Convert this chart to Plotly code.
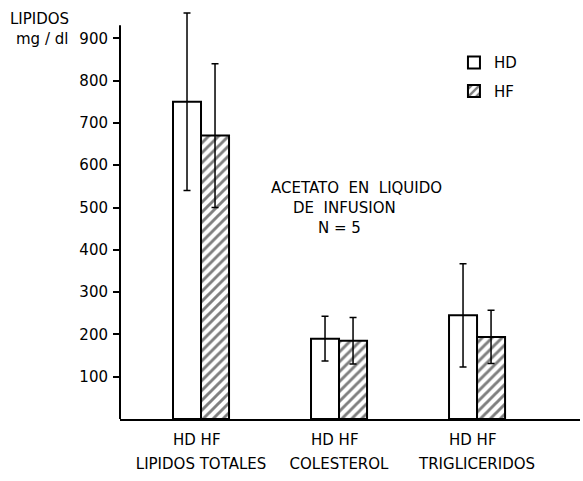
import plotly.graph_objects as go

categories = ["LIPIDOS TOTALES", "COLESTEROL", "TRIGLICERIDOS"]
group_labels = ["HD HF", "HD HF", "HD HF"]
hd_values = [750, 190, 245]
hd_err = [210, 53, 122]
hf_values = [670, 185, 194]
hf_err = [170, 55, 63]
y_ticks = [100, 200, 300, 400, 500, 600, 700, 800, 900]

FONT = "DejaVu Sans, Arial, sans-serif"

fig = go.Figure()
fig.add_trace(go.Bar(
    x=categories, y=hd_values, name="HD", legendgroup="hd",
    marker=dict(color="white", line=dict(color="black", width=2)),
    error_y=dict(type="data", array=hd_err, color="black", thickness=1.5, width=3.5),
))
fig.add_trace(go.Bar(
    x=categories, y=hf_values, name="HF", legendgroup="hf",
    marker=dict(color="white", line=dict(color="black", width=2),
                pattern=dict(shape="/", fgcolor="black", bgcolor="white", size=7, solidity=0.42)),
    error_y=dict(type="data", array=hf_err, color="black", thickness=1.5, width=3.5),
))

fig.update_layout(
    width=583, height=481,
    margin=dict(l=120, r=3, t=7, b=62, autoexpand=False),
    paper_bgcolor="white", plot_bgcolor="white",
    font=dict(family=FONT, size=15, color="black"),
    barmode="group", bargap=0.594, bargroupgap=0,
    showlegend=True,
    legend=dict(x=0.726, y=0.905, xanchor="left", yanchor="top",
                bgcolor="rgba(0,0,0,0)", font=dict(size=15),
                traceorder="grouped", tracegroupgap=6, itemwidth=30),
    xaxis=dict(type="category", range=[-0.587, 2.746], showline=True,
               linecolor="black", linewidth=2, ticks="", showgrid=False,
               tickfont=dict(size=15), ticklabelstandoff=30, zeroline=False,
               automargin=False),
    yaxis=dict(range=[0, 974], showline=False, ticks="outside", ticklen=6,
               tickwidth=2, tickcolor="black", tickvals=y_ticks,
               ticktext=[str(v) for v in y_ticks], tickfont=dict(size=15),
               showgrid=False, zeroline=False, ticklabelstandoff=2,
               automargin=False),
)

# y-axis line (hand-drawn axis stops at the 900 tick)
fig.add_shape(type="line", xref="paper", yref="y", x0=0, x1=0, y0=0, y1=931,
              line=dict(color="black", width=2))

for cat, lab in zip(categories, group_labels):
    fig.add_annotation(text=lab, xref="x", yref="paper", x=cat, y=-0.051,
                       xshift=-4, showarrow=False, xanchor="center", yanchor="middle",
                       font=dict(size=15, family=FONT, color="black"))

ann = [
    ("LIPIDOS", -0.176, 0.970, 15),
    ("mg / dl", -0.170, 0.922, 15),
    ("ACETATO  EN  LIQUIDO", 0.515, 0.561, 15),
    ("DE  INFUSION", 0.487, 0.512, 15),
    ("N = 5", 0.478, 0.464, 15),
]
for text, x, y, s in ann:
    fig.add_annotation(text=text, xref="paper", yref="paper", x=x, y=y,
                       showarrow=False, xanchor="center", yanchor="middle",
                       font=dict(size=s, family=FONT, color="black"))

fig.write_html("out.html", config={"displayModeBar": False},
               post_script="document.body.style.margin='0';")
